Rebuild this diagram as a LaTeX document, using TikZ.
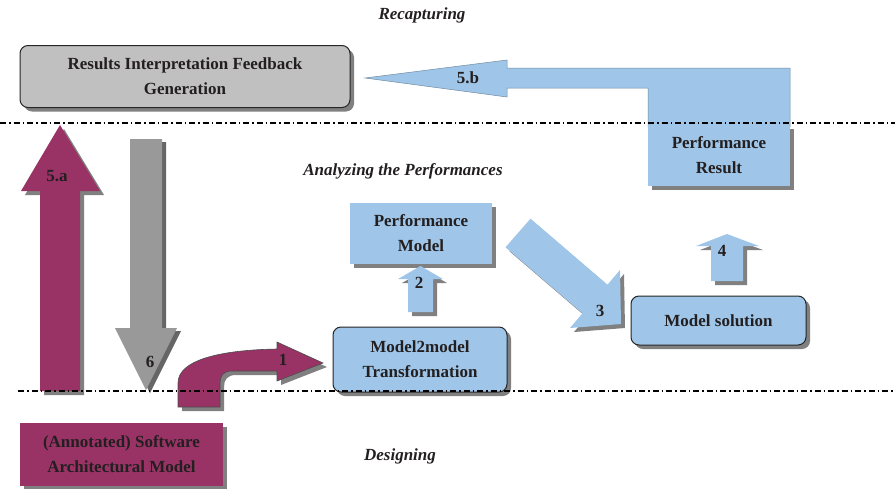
\documentclass[tikz,border=0pt]{standalone}
\usepackage{fontspec}
\setmainfont{Liberation Serif}
\usetikzlibrary{shadows}
\definecolor{pblue}{HTML}{9FC6E8}
\definecolor{pmag}{HTML}{993366}
\definecolor{pgray}{HTML}{999999}
\definecolor{boxgray}{HTML}{C0C0C0}
\definecolor{txt}{HTML}{231F20}

\tikzset{
  lbl/.style={font=\fontsize{17}{25}\selectfont\bfseries, text=txt, align=center},
  phase/.style={font=\fontsize{17}{25}\selectfont\bfseries\itshape, text=txt},
  shade/.style={drop shadow={shadow xshift=4pt, shadow yshift=-4pt, fill=black!50, opacity=1}},
  sep/.style={line width=1.3pt, dash pattern=on 6pt off 3pt on 1.5pt off 3pt},
  rbox/.style={draw=black!85, line width=1pt, rounded corners=8pt, shade, lbl},
  sbox/.style={shade, lbl},
}

\begin{document}
\begin{tikzpicture}[x=1pt,y=-1pt]
  \useasboundingbox (0,0) rectangle (895,488);

  % phases
  \node[phase] (recap) at (422,15) {Recapturing};
  \node[phase] (analyze) at (403,171) {Analyzing the Performances};
  \node[phase] (design) at (400,456) {Designing};

  % boxes
  \node[rbox, fill=boxgray, minimum width=330, minimum height=62] (feedback) at (185,76.5)
    {Results Interpretation Feedback\\Generation};
  \fill[pblue, draw=pblue!70!black, line width=0.5pt]
    (365,78) -- (507,60) -- (507,68) -- (790,68) -- (790,127) -- (648,127)
    -- (648,88) -- (507,88) -- (507,97) -- cycle;
  \node[lbl] (lb5b) at (468,78) {5.b};
  \node[sbox, fill=pblue, minimum width=142, minimum height=61] (result) at (719,155.5)
    {Performance\\Result};
  \node[sbox, fill=pblue, minimum width=142, minimum height=61] (perfmodel) at (421,233.5)
    {Performance\\Model};
  \node[rbox, fill=pblue, minimum width=174, minimum height=65] (m2m) at (420,359.5)
    {Model2model\\Transformation};
  \node[rbox, fill=pblue, minimum width=175, minimum height=49] (solution) at (718.5,320.5)
    {Model solution};
  \node[sbox, fill=pmag, minimum width=203, minimum height=63] (swmodel) at (121.5,454.5)
    {(Annotated) Software\\Architectural Model};

  % block arrows
  \fill[pmag, shade] (40,391) -- (40,191) -- (21,191) -- (60,125) -- (100,191)
    -- (80,191) -- (80,391) -- cycle;
  \node[lbl] (lb5a) at (57,176) {5.a};
  \fill[pgray, drop shadow={shadow xshift=4pt, shadow yshift=-3pt, fill=black!60, opacity=1}]
    (130,139) -- (162,139) -- (162,328) -- (177,328) -- (146,390) -- (115,328)
    -- (130,328) -- cycle;
  \node[lbl] (lb6) at (150,362) {6};
  \filldraw[pmag, draw=black!70, line width=0.6pt, shade]
    (178,407) -- (178,383) .. controls (178,360) and (220,350) .. (277,349)
    -- (277,342) -- (323,363) -- (277,381) -- (277,371) -- (232,371)
    .. controls (223,371) and (220,376) .. (220,383) -- (220,407) -- cycle;
  \node[lbl] (lb1) at (283,360) {1};
  \fill[pblue, shade] (408,312) -- (408,279) -- (398,279) -- (420.5,266) -- (443,279)
    -- (433,279) -- (433,312) -- cycle;
  \node[lbl] (lb2) at (419,283) {2};
  \fill[pblue, shade] (505.5,247.3) -- (530.5,218.7) -- (607.5,284.7) -- (620,270)
    -- (621,324) -- (570,328) -- (582.5,313.3) -- cycle;
  \node[lbl] (lb3) at (600,311) {3};
  \fill[pblue, shade] (711,281) -- (711,246) -- (696,246) -- (727,234) -- (759,246)
    -- (743,246) -- (743,281) -- cycle;
  \node[lbl] (lb4) at (722,251) {4};

  % separators
  \draw[sep] (0,123) -- (895,123);
  \draw[sep] (18,391) -- (895,391);
\end{tikzpicture}
\end{document}
